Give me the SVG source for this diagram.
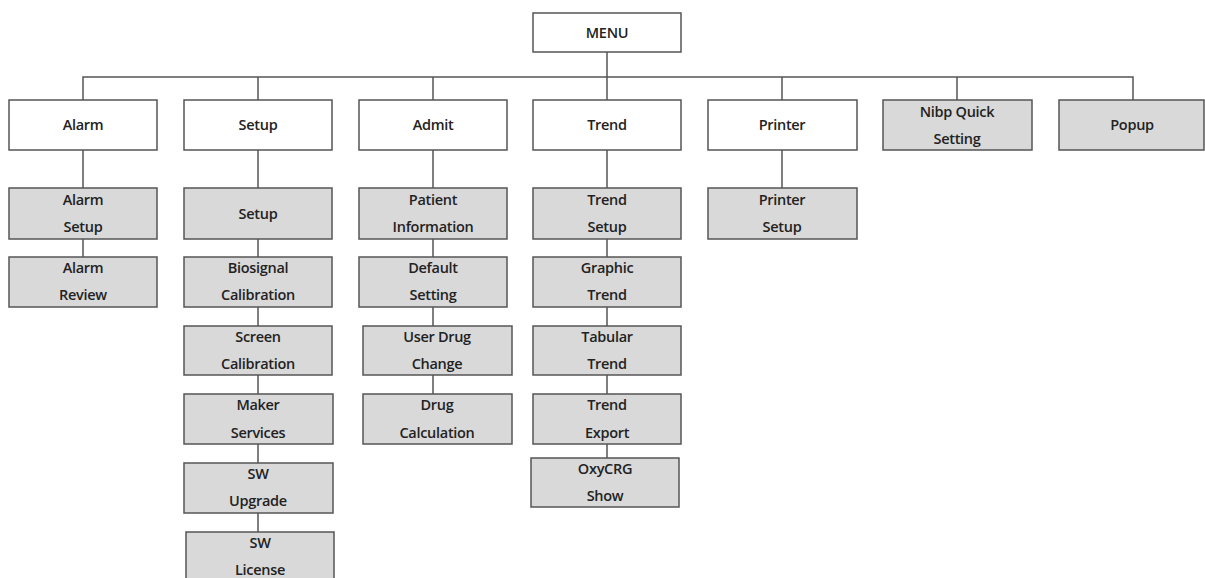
<svg xmlns="http://www.w3.org/2000/svg" width="1205" height="578" viewBox="0 0 1205 578">
<style>
.b{fill:#fff;stroke:#555;stroke-width:1.5}
.g{fill:#d9d9d9;stroke:#555;stroke-width:1.5}
.t{font-family:"Open Sans","Liberation Sans",sans-serif;font-size:14.5px;font-weight:600;fill:#222;text-anchor:middle;letter-spacing:-0.3px}
.c{stroke:#555;stroke-width:1.5;fill:none}
</style>
<rect width="1205" height="578" fill="#fff"/>
<g id="connectors">
<line class="c" x1="607" y1="52" x2="607" y2="77" stroke-width="2.5"/>
<polyline class="c" points="83,100 83,77 1133,77 1133,100"/>
<line class="c" x1="258" y1="77" x2="258" y2="100"/>
<line class="c" x1="433" y1="77" x2="433" y2="100"/>
<line class="c" x1="607" y1="77" x2="607" y2="100"/>
<line class="c" x1="782" y1="77" x2="782" y2="100"/>
<line class="c" x1="957" y1="77" x2="957" y2="100"/>
<line class="c" x1="83" y1="150" x2="83" y2="257"/>
<line class="c" x1="258" y1="150" x2="258" y2="532"/>
<line class="c" x1="433" y1="150" x2="433" y2="394"/>
<line class="c" x1="607" y1="150" x2="607" y2="458"/>
<line class="c" x1="782" y1="150" x2="782" y2="188"/>
</g>
<g id="menu"><rect class="b" x="533" y="13" width="148" height="39"/><text class="t" x="607" y="38">MENU</text></g>
<g id="alarm"><rect class="b" x="9" y="100" width="148" height="50"/><text class="t" x="83" y="130">Alarm</text></g>
<g id="setup"><rect class="b" x="184" y="100" width="148" height="50"/><text class="t" x="258" y="130">Setup</text></g>
<g id="admit"><rect class="b" x="359" y="100" width="148" height="50"/><text class="t" x="433" y="130">Admit</text></g>
<g id="trend"><rect class="b" x="533" y="100" width="148" height="50"/><text class="t" x="607" y="130">Trend</text></g>
<g id="printer"><rect class="b" x="708" y="100" width="149" height="50"/><text class="t" x="782" y="130">Printer</text></g>
<g id="nibp"><rect class="g" x="883" y="100" width="149" height="50"/><text class="t" x="957" y="117">Nibp Quick</text><text class="t" x="957" y="144">Setting</text></g>
<g id="popup"><rect class="g" x="1059" y="100" width="145" height="50"/><text class="t" x="1132" y="130">Popup</text></g>

<g id="alarm-setup"><rect class="g" x="9" y="188" width="148" height="51"/><text class="t" x="83" y="205">Alarm</text><text class="t" x="83" y="232">Setup</text></g>
<g id="alarm-review"><rect class="g" x="9" y="257" width="148" height="50"/><text class="t" x="83" y="273">Alarm</text><text class="t" x="83" y="300">Review</text></g>

<g id="setup-setup"><rect class="g" x="184" y="188" width="148" height="51"/><text class="t" x="258" y="219">Setup</text></g>
<g id="biosignal"><rect class="g" x="184" y="257" width="148" height="50"/><text class="t" x="258" y="273">Biosignal</text><text class="t" x="258" y="300">Calibration</text></g>
<g id="screen"><rect class="g" x="184" y="326" width="148" height="49"/><text class="t" x="258" y="342">Screen</text><text class="t" x="258" y="369">Calibration</text></g>
<g id="maker"><rect class="g" x="184" y="394" width="149" height="50"/><text class="t" x="258" y="410">Maker</text><text class="t" x="258" y="438">Services</text></g>
<g id="sw-upgrade"><rect class="g" x="184" y="463" width="149" height="50"/><text class="t" x="258" y="479">SW</text><text class="t" x="258" y="506">Upgrade</text></g>
<g id="sw-license"><rect class="g" x="186" y="532" width="148" height="50"/><text class="t" x="260" y="548">SW</text><text class="t" x="260" y="575">License</text></g>

<g id="patient"><rect class="g" x="359" y="188" width="148" height="51"/><text class="t" x="433" y="205">Patient</text><text class="t" x="433" y="232">Information</text></g>
<g id="default"><rect class="g" x="359" y="257" width="148" height="50"/><text class="t" x="433" y="273">Default</text><text class="t" x="433" y="300">Setting</text></g>
<g id="userdrug"><rect class="g" x="363" y="326" width="149" height="49"/><text class="t" x="437" y="342">User Drug</text><text class="t" x="437" y="369">Change</text></g>
<g id="drugcalc"><rect class="g" x="363" y="394" width="149" height="50"/><text class="t" x="437" y="410">Drug</text><text class="t" x="437" y="438">Calculation</text></g>

<g id="trend-setup"><rect class="g" x="533" y="188" width="148" height="51"/><text class="t" x="607" y="205">Trend</text><text class="t" x="607" y="232">Setup</text></g>
<g id="graphic"><rect class="g" x="533" y="257" width="148" height="50"/><text class="t" x="607" y="273">Graphic</text><text class="t" x="607" y="300">Trend</text></g>
<g id="tabular"><rect class="g" x="533" y="326" width="148" height="49"/><text class="t" x="607" y="342">Tabular</text><text class="t" x="607" y="369">Trend</text></g>
<g id="export"><rect class="g" x="533" y="394" width="148" height="50"/><text class="t" x="607" y="410">Trend</text><text class="t" x="607" y="438">Export</text></g>
<g id="oxycrg"><rect class="g" x="531" y="458" width="148" height="49"/><text class="t" x="605" y="474">OxyCRG</text><text class="t" x="605" y="501">Show</text></g>

<g id="printer-setup"><rect class="g" x="708" y="188" width="149" height="51"/><text class="t" x="782" y="205">Printer</text><text class="t" x="782" y="232">Setup</text></g>
</svg>
